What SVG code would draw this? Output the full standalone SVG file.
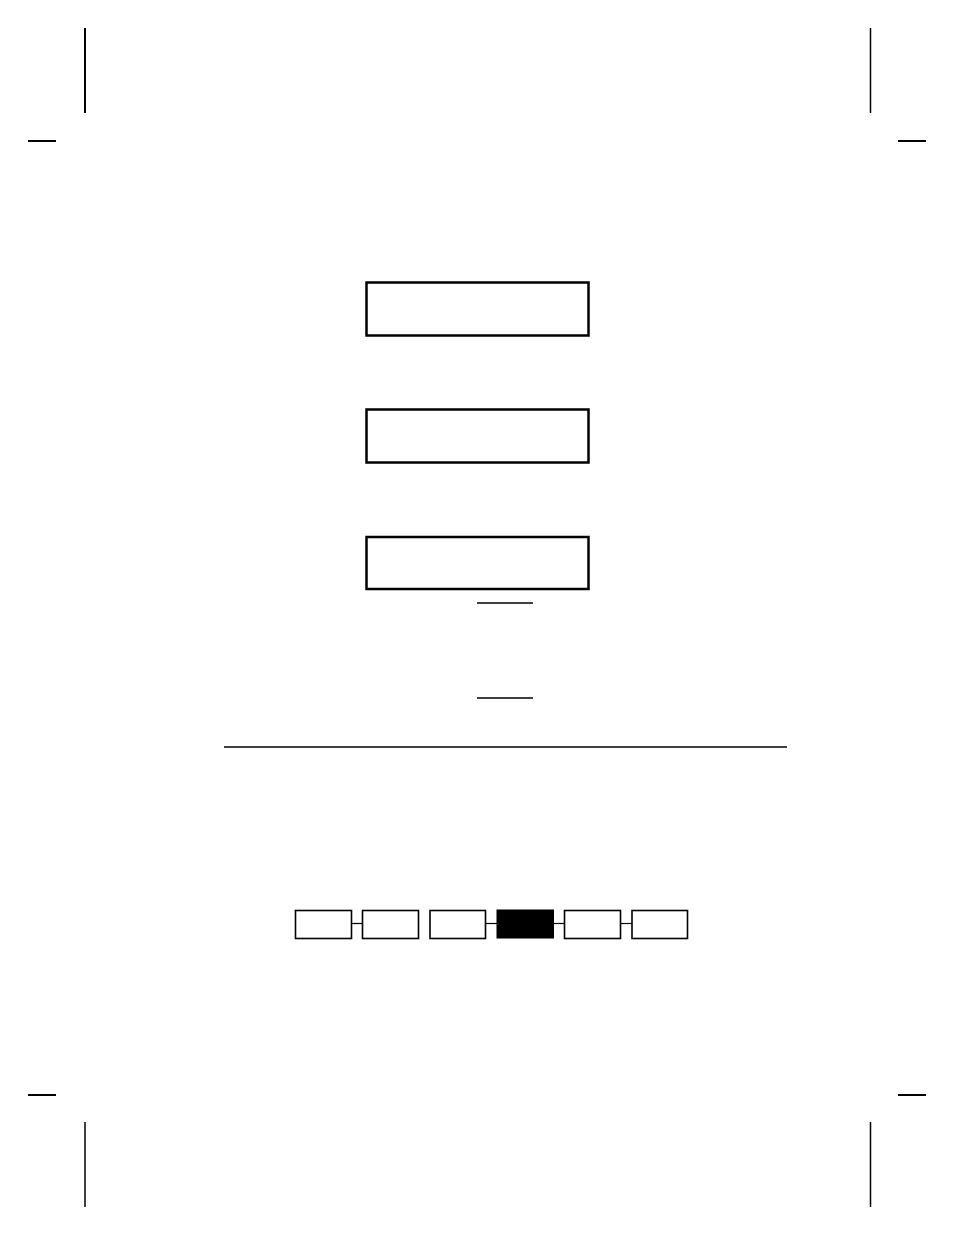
<svg xmlns="http://www.w3.org/2000/svg" width="954" height="1235" viewBox="0 0 954 1235">
<style>
.box{fill:#fff;stroke:#000;stroke-width:2.5}
.sbox{fill:#fff;stroke:#000;stroke-width:1.6}
.line{stroke:#000;fill:none}
</style>
<rect width="954" height="1235" fill="#fff"/>
<g id="crop-marks" class="line">
<line x1="85" y1="28" x2="85" y2="113" stroke-width="2"/>
<line x1="28" y1="141" x2="56" y2="141" stroke-width="2"/>
<line x1="870.5" y1="28" x2="870.5" y2="113" stroke-width="1.5"/>
<line x1="898" y1="141" x2="926" y2="141" stroke-width="2"/>
<line x1="85" y1="1122" x2="85" y2="1207" stroke-width="1.5"/>
<line x1="28" y1="1095" x2="56" y2="1095" stroke-width="2"/>
<line x1="870.5" y1="1122" x2="870.5" y2="1207" stroke-width="1.5"/>
<line x1="898" y1="1095" x2="926" y2="1095" stroke-width="2"/>
</g>
<g id="display1"><rect class="box" x="366.5" y="282.5" width="222" height="53"/></g>
<g id="display2"><rect class="box" x="366.5" y="409.5" width="222" height="53"/></g>
<g id="display3"><rect class="box" x="366.5" y="537" width="222" height="52"/></g>
<g id="underlines" class="line" stroke-width="1.5">
<line x1="477" y1="603" x2="533" y2="603"/>
<line x1="477" y1="698" x2="533" y2="698"/>
</g>
<g id="rule"><line class="line" stroke-width="1.3" x1="224" y1="747" x2="787" y2="747"/></g>
<g id="connectors" class="line" stroke-width="1.2">
<line x1="351" y1="923.5" x2="362" y2="923.5"/>
<line x1="485" y1="923.5" x2="497" y2="923.5"/>
<line x1="554" y1="923.5" x2="565" y2="923.5"/>
<line x1="620" y1="923.5" x2="632" y2="923.5"/>
</g>
<g id="step1"><rect class="sbox" x="295.5" y="910.5" width="56" height="28" stroke-width="2"/></g>
<g id="step2"><rect class="sbox" x="362.5" y="910.5" width="56" height="28"/></g>
<g id="step3"><rect class="sbox" x="430" y="910.5" width="55.5" height="28"/></g>
<g id="step4"><rect x="496.5" y="909.5" width="57.5" height="29" fill="#000"/></g>
<g id="step5"><rect class="sbox" x="564.5" y="910.5" width="56" height="28"/></g>
<g id="step6"><rect class="sbox" x="632" y="910.5" width="55.5" height="28"/></g>
</svg>
